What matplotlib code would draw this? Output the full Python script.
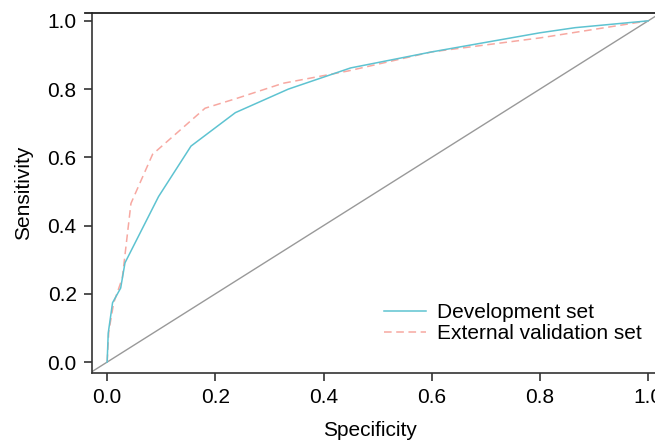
import numpy as np
import matplotlib.pyplot as plt
from matplotlib.lines import Line2D

plt.rcParams['font.family'] = ['Liberation Sans', 'DejaVu Sans']

# ROC points
dev_x = [0.0, 0.002, 0.010, 0.025, 0.033, 0.095, 0.155, 0.237, 0.335, 0.45, 0.60, 0.80, 0.865, 1.0]
dev_y = [0.0, 0.085, 0.174, 0.217, 0.291, 0.485, 0.633, 0.731, 0.800, 0.862, 0.909, 0.965, 0.980, 1.0]

ext_x = [0.0, 0.003, 0.012, 0.028, 0.044, 0.084, 0.181, 0.24, 0.325, 0.445, 0.60, 0.80, 1.0]
ext_y = [0.0, 0.089, 0.173, 0.246, 0.465, 0.609, 0.744, 0.773, 0.817, 0.853, 0.909, 0.950, 1.0]

labels = ['Development set', 'External validation set']
ticks = [0.0, 0.2, 0.4, 0.6, 0.8, 1.0]

W, H = 655, 441
fig = plt.figure(figsize=(W / 100, H / 100), dpi=100)
# axes: left spine at px 92, bottom at px 373, top at px 13; runs past the right edge
x0, x1 = -0.028, 1.04
ax_wpx = (x1 - x0) * 541
ax = fig.add_axes([92 / W, (H - 373) / H, ax_wpx / W, (373 - 13) / H])

ax.axline((0, 0), (1, 1), color='#999999', lw=1.0, zorder=1)
ax.plot(dev_x, dev_y, color='#5EC3D1', lw=1.1, label=labels[0], zorder=3)
ax.plot(ext_x, ext_y, color='#F7A8A1', lw=1.1, ls=(0, (5, 3)), label=labels[1], zorder=2)

ax.set_xlim(x0, x1)
ax.set_ylim(-0.032, 1.023)
ax.set_xticks(ticks)
ax.set_yticks(ticks)
ax.set_xticklabels([f'{t:.1f}' for t in ticks])
ax.set_yticklabels([f'{t:.1f}' for t in ticks])
ax.tick_params(direction='out', length=6, width=1.2, color='#333333', labelsize=15, pad=5)
for s in ['top', 'right']:
    ax.spines[s].set_visible(False)
for s in ['left', 'bottom']:
    ax.spines[s].set_linewidth(1.2)
    ax.spines[s].set_color('#333333')

ax.set_xlabel('Specificity', fontsize=15)
ax.set_ylabel('Sensitivity', fontsize=15)
ax.xaxis.set_label_coords((370 - 92) / ax_wpx, -(421 - 373) / 360)
ax.yaxis.set_label_coords(-(92 - 33) / ax_wpx, 0.5)

# top frame line
fig.add_artist(Line2D([85 / W, 1.0], [(H - 13) / H] * 2, color='#222222', lw=1.3))

ax.legend(loc='center left', bbox_to_anchor=(384 / W, (H - 323) / H), bbox_transform=fig.transFigure,
          frameon=False, fontsize=15, handlelength=2.0, handletextpad=0.55, borderpad=0,
          borderaxespad=0, labelspacing=0.1)

fig.savefig('out.png', dpi=100)
